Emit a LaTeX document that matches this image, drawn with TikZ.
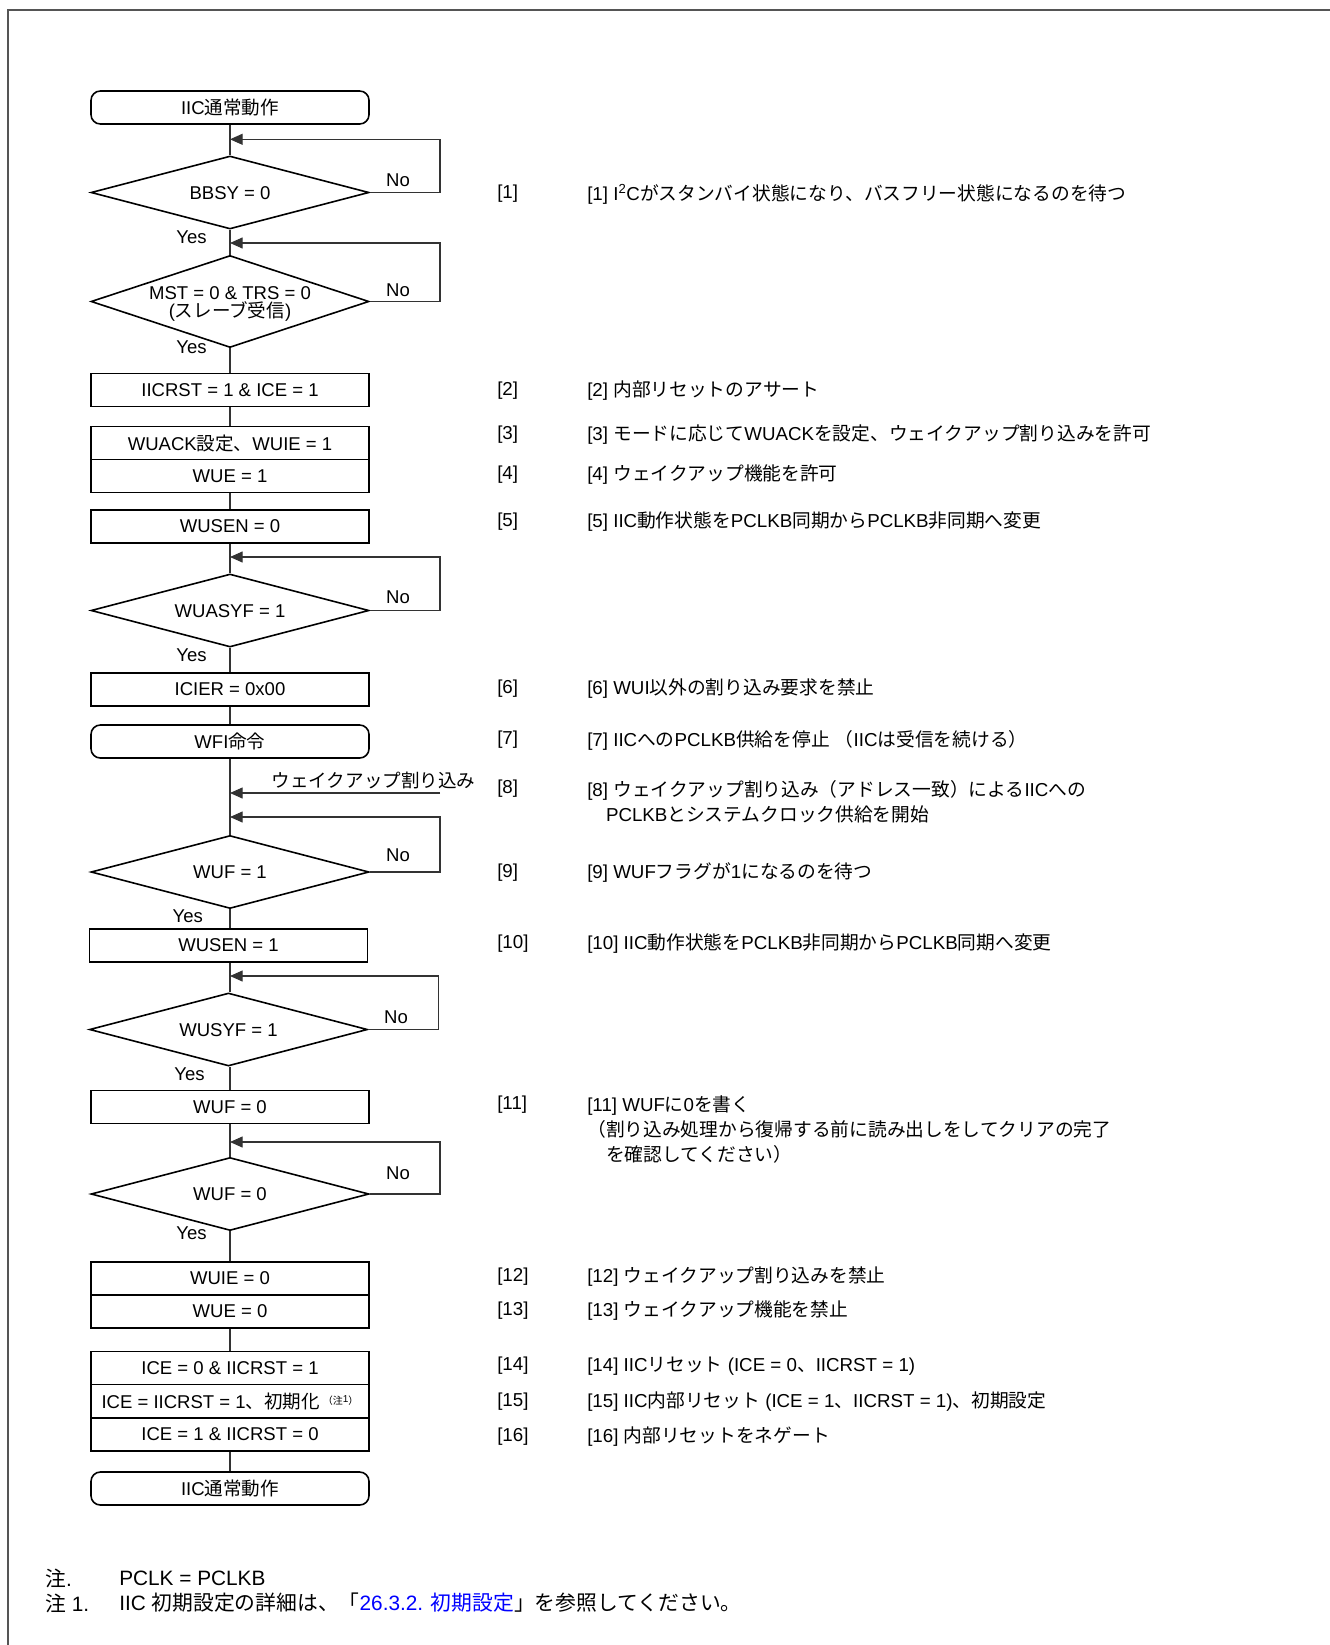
\documentclass[tikz,border=0pt]{standalone}
\usepackage{fontspec}
\setmainfont{Liberation Sans}
\newfontfamily\jpfont{Noto Sans CJK JP}
\usetikzlibrary{shapes.geometric,arrows.meta}
\XeTeXinterchartokenstate=1
\newXeTeXintercharclass\jpclass
\newcount\jpc
\def\setjprange#1#2{\jpc=#1\relax\loop\XeTeXcharclass\jpc=\jpclass\relax\ifnum\jpc<#2 \advance\jpc by 1\repeat}
\setjprange{"3000}{"30FF}
\setjprange{"4E00}{"9FFF}
\setjprange{"FF00}{"FFEF}
\XeTeXinterchartoks 0 \jpclass = {\jpfont}
\XeTeXinterchartoks 4095 \jpclass = {\jpfont}
\XeTeXinterchartoks \jpclass 0 = {\rmfamily}
\XeTeXinterchartoks \jpclass 4095 = {\rmfamily}
\newcommand\fz{\fontsize{13.9pt}{13.8pt}\selectfont}
\newcommand\fr{\fontsize{14.05pt}{18.5pt}\selectfont}
\newcommand\ff{\fontsize{15.6pt}{18pt}\selectfont}
\definecolor{framecol}{HTML}{555555}
\definecolor{linecol}{HTML}{333333}
\begin{document}
\begin{tikzpicture}[x=0.75pt,y=-0.75pt,
  box/.style={draw=black, line width=1.2pt, minimum width=278*0.75pt, minimum height=33*0.75pt, inner sep=0pt, font=\fz, fill=white},
  rbox/.style={box, rounded corners=7pt},
  dia/.style={draw=black, diamond, line width=1.2pt, minimum width=278*0.75pt, inner sep=0pt, fill=white},
  lbl/.style={inner sep=0pt, font=\fz, align=center},
  rt/.style={inner sep=0pt, font=\fr, anchor=west, align=left},
  conn/.style={draw=linecol, line width=0.8pt},
  arr/.style={conn, -{Triangle[length=9.4pt, width=8.2pt]}}]
\useasboundingbox (0,0) rectangle (1330,1645);
\draw[framecol, line width=1.5pt] (7.5,1645) -- (7.5,10) -- (1330,10);

% main flow nodes
\node[rbox] (s0) at (230,107.5) {IIC通常動作};
\node[dia, minimum height=73*0.75pt] (d1) at (230,192.5) {};
\node[lbl] (d1t) at (230,193) {BBSY = 0};
\node[dia, minimum height=92*0.75pt] (d2) at (230,301.5) {};
\node[lbl] (d2t) at (230,304) {MST = 0 \& TRS = 0\\(スレーブ受信)};
\node[box] (b1) at (230,390) {IICRST = 1 \& ICE = 1};
\node[box] (b2) at (230,443) {WUACK設定、WUIE = 1};
\node[box] (b3) at (230,476) {WUE = 1};
\node[box] (b4) at (230,526.5) {WUSEN = 0};
\node[dia, minimum height=73*0.75pt] (d3) at (230,610.5) {};
\node[lbl] (d3t) at (230,611) {WUASYF = 1};
\node[box] (b5) at (230,689.5) {ICIER = 0x00};
\node[rbox] (w1) at (230,741.5) {WFI命令};
\node[dia, minimum height=73*0.75pt] (d4) at (230,872) {};
\node[lbl] (d4t) at (230,872.5) {WUF = 1};
\node[box] (b6) at (228.5,945.5) {WUSEN = 1};
\node[dia, minimum height=73*0.75pt] (d5) at (228.5,1029.5) {};
\node[lbl] (d5t) at (228.5,1030) {WUSYF = 1};
\node[box] (b7) at (230,1107) {WUF = 0};
\node[dia, minimum height=73*0.75pt] (d6) at (230,1194) {};
\node[lbl] (d6t) at (230,1194.5) {WUF = 0};
\node[box] (b8) at (230,1278.5) {WUIE = 0};
\node[box] (b9) at (230,1311.5) {WUE = 0};
\node[box] (b10) at (230,1368) {ICE = 0 \& IICRST = 1};
\node[box] (b11) at (230,1401) {ICE = IICRST = 1、初期化\,\raisebox{3pt}{\fontsize{7.5pt}{8pt}\selectfont （注\raisebox{1.5pt}{1}）}};
\node[box] (b12) at (230,1434.5) {ICE = 1 \& IICRST = 0};
\node[rbox] (e0) at (230,1488.5) {IIC通常動作};

% vertical connectors
\draw[conn] (s0.south) -- (d1.north);
\draw[conn] (d1.south) -- (d2.north);
\draw[conn] (d2.south) -- (b1.north);
\draw[conn] (b1.south) -- (b2.north);
\draw[conn] (b3.south) -- (b4.north);
\draw[conn] (b4.south) -- (d3.north);
\draw[conn] (d3.south) -- (b5.north);
\draw[conn] (b5.south) -- (w1.north);
\draw[conn] (w1.south) -- (d4.north);
\draw[conn] (d4.south) -- (d4.south |- b6.north);
\draw[conn] (d4.south |- b6.south) -- (d4.south |- d5.north);
\draw[conn] (d4.south |- d5.south) -- (b7.north);
\draw[conn] (b7.south) -- (d6.north);
\draw[conn] (d6.south) -- (b8.north);
\draw[conn] (b9.south) -- (b10.north);
\draw[conn] (b12.south) -- (e0.north);

% loops
\coordinate (r1) at (440,139.3); \coordinate (a1) at (230,139.3);
\coordinate (r2) at (440,243);   \coordinate (a2) at (230,243);
\coordinate (r3) at (440,557);   \coordinate (a3) at (230,557);
\coordinate (r4) at (440,817);   \coordinate (a4) at (230,817);
\coordinate (r5) at (438.7,976); \coordinate (a5) at (230,976);
\coordinate (r6) at (440,1142);  \coordinate (a6) at (230,1142);
\draw[arr] (d1.east) -| (r1) -- (a1);
\draw[arr] (d2.east) -| (r2) -- (a2);
\draw[arr] (d3.east) -| (r3) -- (a3);
\draw[arr] (d4.east) -| (r4) -- (a4);
\draw[arr] (d5.east) -| (r5) -- (a5);
\draw[arr] (d6.east) -| (r6) -- (a6);
\coordinate (ia) at (440,793); \coordinate (ib) at (230,793);
\draw[arr] (ia) -- (ib);
\node[lbl] (il) at (373.5,780) {ウェイクアップ割り込み};

% Yes / No labels
\node[lbl] (n1) at (398,180) {No};
\node[lbl] (n2) at (398,290) {No};
\node[lbl] (n3) at (398,597.5) {No};
\node[lbl] (n4) at (398,855) {No};
\node[lbl] (n5) at (396,1017) {No};
\node[lbl] (n6) at (398,1173) {No};
\node[lbl] (y1) at (191.5,237.7) {Yes};
\node[lbl] (y2) at (191.5,347.7) {Yes};
\node[lbl] (y3) at (191.5,655) {Yes};
\node[lbl] (y4) at (187.8,916.7) {Yes};
\node[lbl] (y5) at (189.5,1074.3) {Yes};
\node[lbl] (y6) at (191.5,1233.3) {Yes};

% right column
\node[rt] (k1) at (497,194) {[1]};
\node[rt] (t1) at (587,194) {[1] I\textsuperscript{2}Cがスタンバイ状態になり、バスフリー状態になるのを待つ};
\node[rt] (k2) at (497,391) {[2]};
\node[rt] (t2) at (587,391) {[2] 内部リセットのアサート};
\node[rt] (k3) at (497,435) {[3]};
\node[rt] (t3) at (587,435) {[3] モードに応じてWUACKを設定、ウェイクアップ割り込みを許可};
\node[rt] (k4) at (497,475) {[4]};
\node[rt] (t4) at (587,475) {[4] ウェイクアップ機能を許可};
\node[rt] (k5) at (497,522) {[5]};
\node[rt] (t5) at (587,522) {[5] IIC動作状態をPCLKB同期からPCLKB非同期へ変更};
\node[rt] (k6) at (497,689) {[6]};
\node[rt] (t6) at (587,689) {[6] WUI以外の割り込み要求を禁止};
\node[rt] (k7) at (497,740) {[7]};
\node[rt] (t7) at (587,740) {[7] IICへのPCLKB供給を停止 （IICは受信を続ける）};
\node[rt] (k8) at (497,789) {[8]};
\node[rt] (t8) at (587,802) {[8] ウェイクアップ割り込み（アドレス一致）によるIICへの\\　PCLKBとシステムクロック供給を開始};
\node[rt] (k9) at (497,873) {[9]};
\node[rt] (t9) at (587,873) {[9] WUFフラグが1になるのを待つ};
\node[rt] (k10) at (497,944) {[10]};
\node[rt] (t10) at (587,944) {[10] IIC動作状態をPCLKB非同期からPCLKB同期へ変更};
\node[rt] (k11) at (497,1105) {[11]};
\node[rt] (t11) at (587,1129.5) {[11] WUFに0を書く\\（割り込み処理から復帰する前に読み出しをしてクリアの完了\\　を確認してください）};
\node[rt] (k12) at (497,1277) {[12]};
\node[rt] (t12) at (587,1277) {[12] ウェイクアップ割り込みを禁止};
\node[rt] (k13) at (497,1311) {[13]};
\node[rt] (t13) at (587,1311) {[13] ウェイクアップ機能を禁止};
\node[rt] (k14) at (497,1366) {[14]};
\node[rt] (t14) at (587,1366) {[14] IICリセット (ICE = 0、IICRST = 1)};
\node[rt] (k15) at (497,1402) {[15]};
\node[rt] (t15) at (587,1402) {[15] IIC内部リセット (ICE = 1、IICRST = 1)、初期設定};
\node[rt] (k16) at (497,1437) {[16]};
\node[rt] (t16) at (587,1437) {[16] 内部リセットをネゲート};

% footnotes
\node[inner sep=0pt, anchor=west, font=\ff] (f1) at (45,1578) {注.};
\node[inner sep=0pt, anchor=west, font=\ff] (f1t) at (119,1578) {PCLK = PCLKB};
\node[inner sep=0pt, anchor=west, font=\ff] (f2) at (45,1603) {注 1.};
\node[inner sep=0pt, anchor=west, font=\ff] (f2t) at (119,1603) {IIC 初期設定の詳細は、「\textcolor{blue}{26.3.2. 初期設定}」を参照してください。};
\end{tikzpicture}
\end{document}
